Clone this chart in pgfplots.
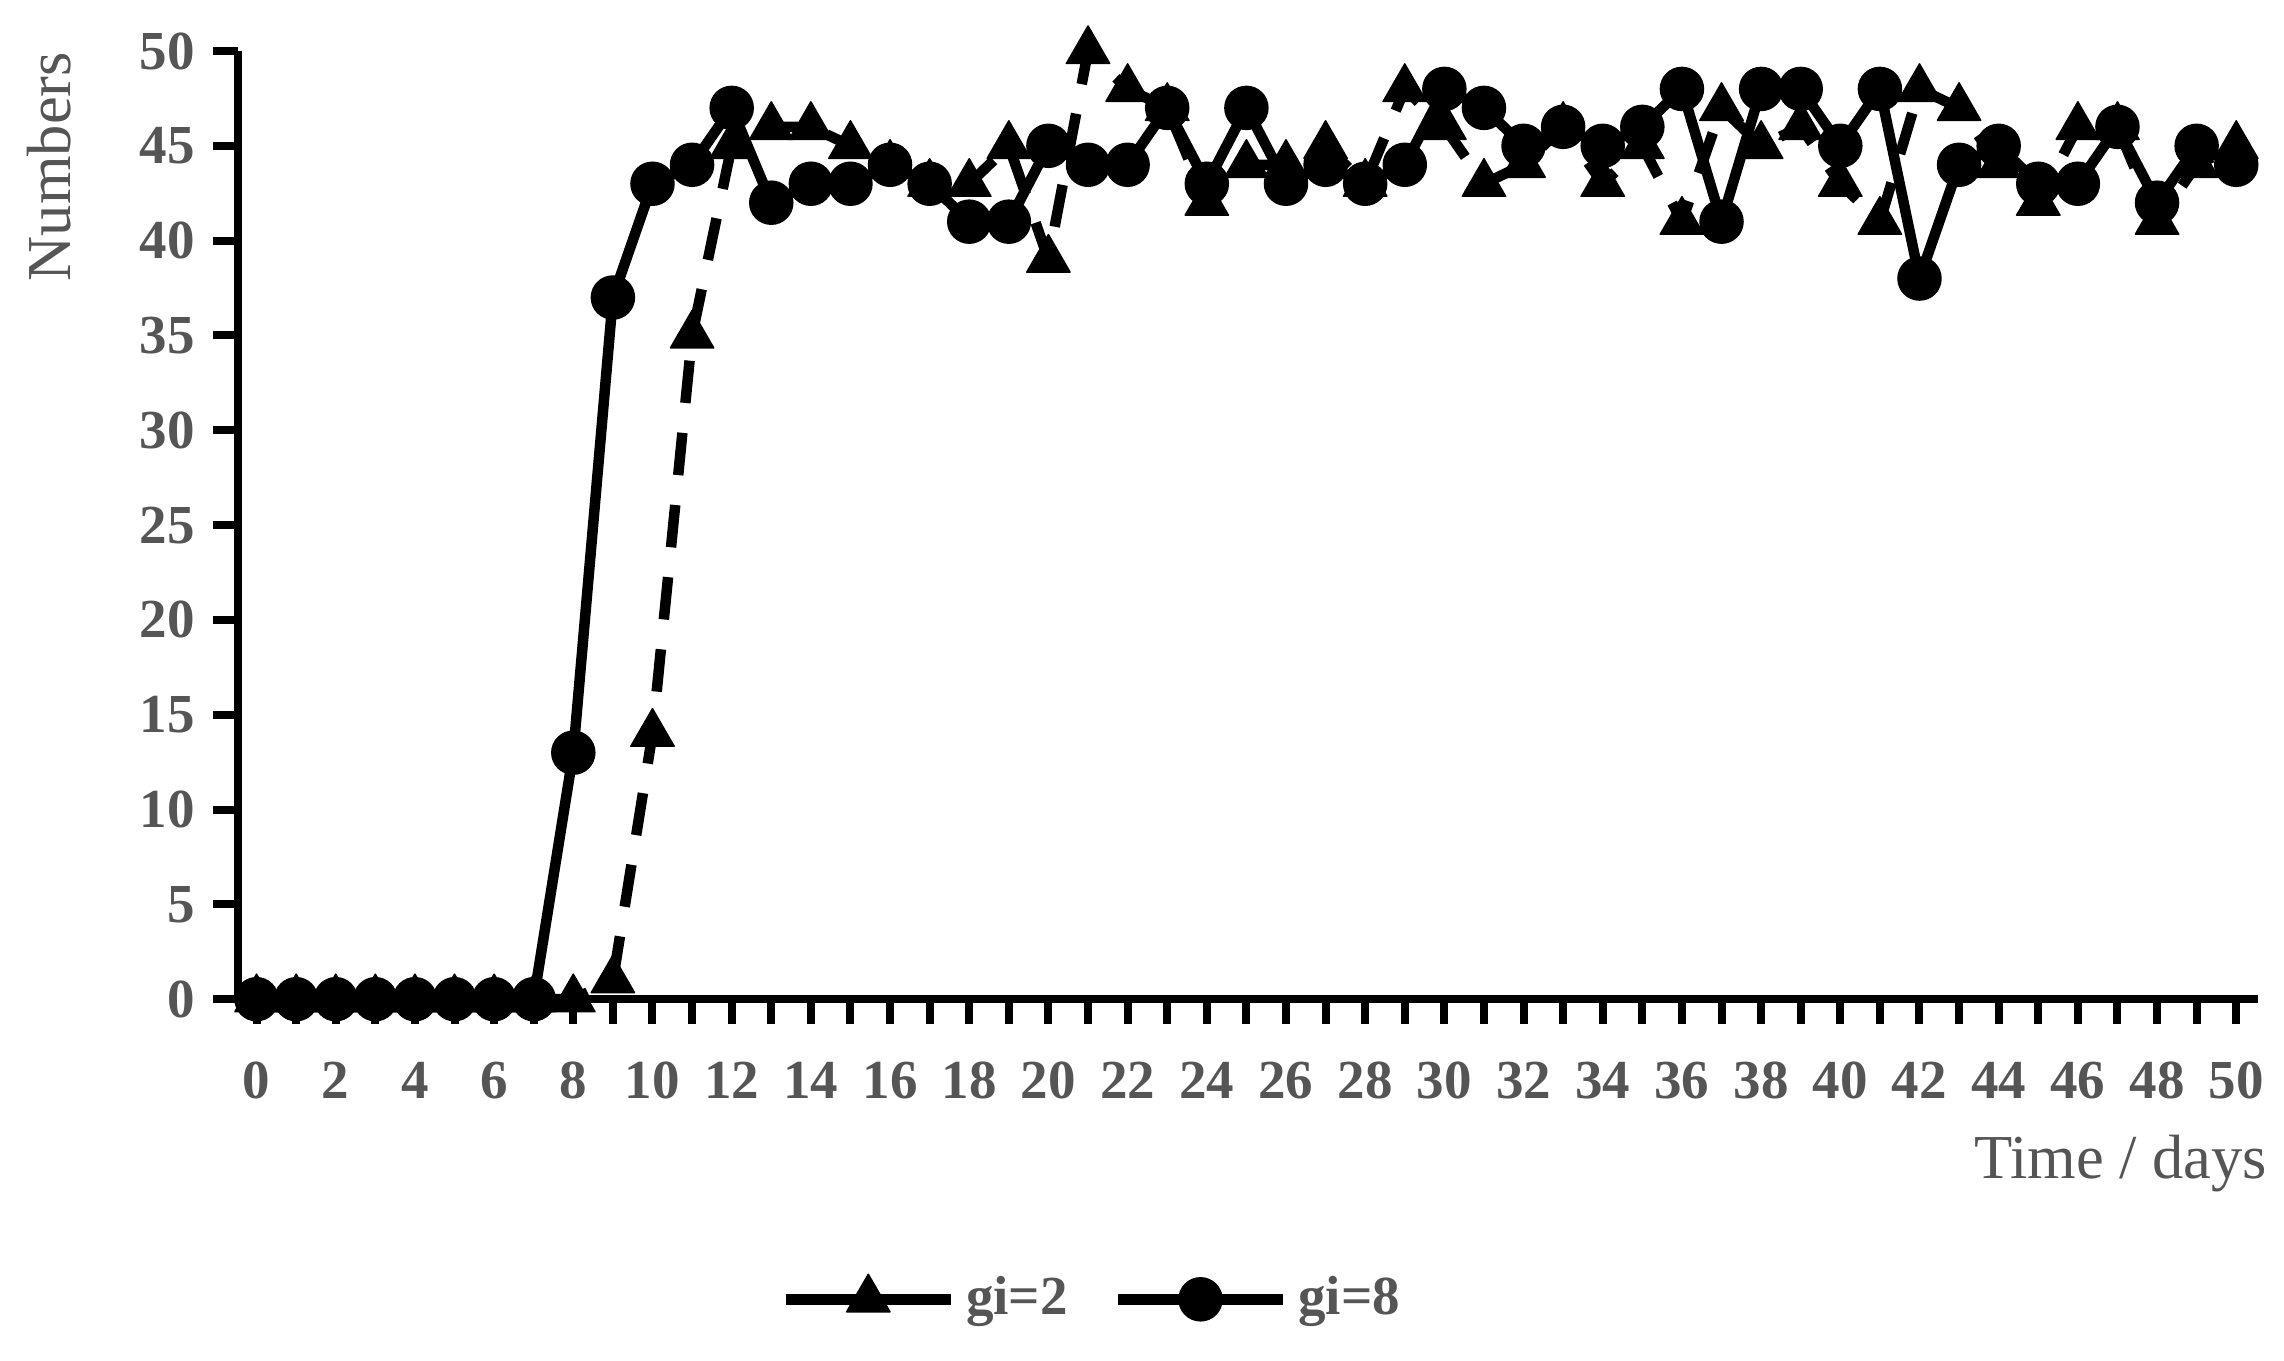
\documentclass[border=0pt]{standalone}
\usepackage{pgfplots}
\pgfplotsset{compat=1.18}
\usepackage{fontspec}
\setmainfont{Liberation Serif}
\definecolor{lbl}{RGB}{85,85,85}
\pgfplotstableread{
x y
0 0
1 0
2 0
3 0
4 0
5 0
6 0
7 0
8 0
9 1
10 14
11 35
12 45
13 46
14 46
15 45
16 44
17 43
18 43
19 45
20 39
21 50
22 48
23 47
24 42
25 44
26 44
27 45
28 43
29 48
30 46
31 43
32 44
33 46
34 43
35 45
36 41
37 47
38 45
39 46
40 43
41 41
42 48
43 47
44 44
45 42
46 46
47 46
48 41
49 44
50 45
}\gitwo
\pgfplotstableread{
x y
0 0
1 0
2 0
3 0
4 0
5 0
6 0
7 0
8 13
9 37
10 43
11 44
12 47
13 42
14 43
15 43
16 44
17 43
18 41
19 41
20 45
21 44
22 44
23 47
24 43
25 47
26 43
27 44
28 43
29 44
30 48
31 47
32 45
33 46
34 45
35 46
36 48
37 41
38 48
39 48
40 45
41 48
42 38
43 44
44 45
45 43
46 43
47 46
48 42
49 45
50 44
}\gieight
\begin{document}
\begin{tikzpicture}
\begin{axis}[
  scale only axis, width=404pt, height=189.6pt,
  xmin=-0.48, xmax=50.55, ymin=0, ymax=50,
  axis x line=bottom, axis y line=left,
  axis line style={-, line width=1.6pt, black},
  xtick={0,2,...,50}, minor xtick={1,3,...,49},
  ytick={0,5,...,50},
  tick align=outside,
  major tick length=5pt, minor tick length=5pt,
  tick style={black, line width=1.6pt},
  ticklabel style={font=\fontsize{11}{13}\selectfont\bfseries, text=lbl},
  xticklabel style={yshift=-4pt},
  /pgf/number format/assume math mode=true,
  xlabel={Time / days}, ylabel={Numbers},
  xlabel style={at={(axis description cs:1.005,-0.1424)}, anchor=north east, font=\fontsize{12.5}{15}\selectfont, text=lbl, inner sep=0pt},
  ylabel style={at={(axis description cs:-0.0819,1)}, anchor=south east, font=\fontsize{12.5}{15}\selectfont, text=lbl, inner sep=0pt},
  clip=false,
  legend columns=2,
  legend style={at={(axis description cs:0.4245,-0.3165)}, anchor=center, draw=none, fill=none,
    font=\fontsize{11}{13}\selectfont\bfseries, text=lbl,
    /tikz/every even column/.append style={column sep=7pt}},
  legend image code/.code={
    \draw[#1,solid] (0pt,0pt) -- (33pt,0pt);
    \draw[#1,mark repeat=1] plot coordinates {(16.5pt,0pt)};
  },
]
\addplot[black, line width=2.1pt, line join=round, dash pattern=on 8.5pt off 6pt, mark=triangle*, mark size=5pt, mark options={solid, line width=0.3pt, fill=black}] table[x=x,y=y] {\gitwo};
\addlegendentry{gi=2}
\addplot[black, line width=2.1pt, line join=round, mark=*, mark size=4.3pt, mark options={solid, line width=0.3pt, fill=black}] table[x=x,y=y] {\gieight};
\addlegendentry{gi=8}
\coordinate (bl) at (rel axis cs:0,0);
\coordinate (tr) at (rel axis cs:1,1);
\end{axis}
\pgfresetboundingbox
\path[use as bounding box] ([shift={(-47.5pt,-72.2pt)}]bl) rectangle ([shift={(5.2pt,10.2pt)}]tr);
\end{tikzpicture}
\end{document}
